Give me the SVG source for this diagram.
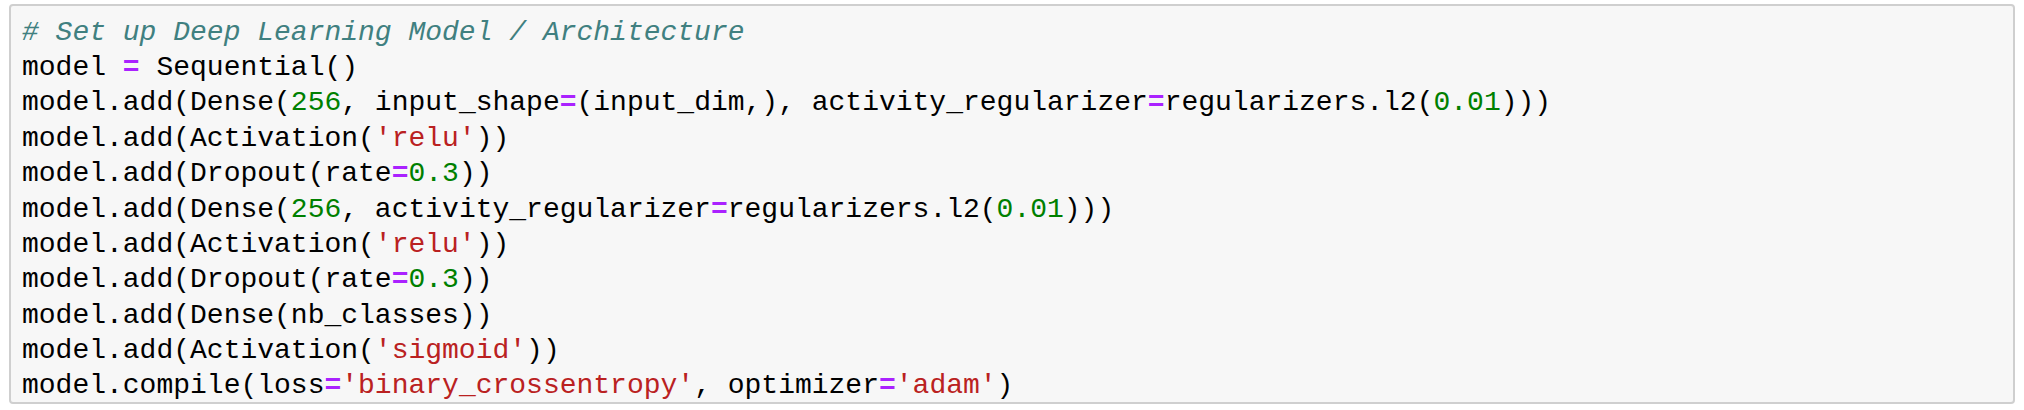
<svg xmlns="http://www.w3.org/2000/svg" width="2024" height="410" viewBox="0 0 2024 410">
<style>
text{font-family:"Liberation Mono","DejaVu Sans Mono",monospace;font-size:28px;fill:#000;white-space:pre}
.c{fill:#408080;font-style:italic}
.o{fill:#AA22FF;font-weight:bold}
.n{fill:#008000}
.s{fill:#BA2121}
</style>
<rect width="2024" height="410" fill="#fff"/>
<rect x="10" y="5" width="2004" height="398" rx="3" fill="#f7f7f7" stroke="#cfcfcf" stroke-width="2"/>
<g id="code">
<text x="22" y="40" class="c"># Set up Deep Learning Model / Architecture</text>
<text x="22" y="75">model <tspan class="o">=</tspan> Sequential()</text>
<text x="22" y="110">model.add(Dense(<tspan class="n">256</tspan>, input_shape<tspan class="o">=</tspan>(input_dim,), activity_regularizer<tspan class="o">=</tspan>regularizers.l2(<tspan class="n">0.01</tspan>)))</text>
<text x="22" y="146">model.add(Activation(<tspan class="s">'relu'</tspan>))</text>
<text x="22" y="181">model.add(Dropout(rate<tspan class="o">=</tspan><tspan class="n">0.3</tspan>))</text>
<text x="22" y="217">model.add(Dense(<tspan class="n">256</tspan>, activity_regularizer<tspan class="o">=</tspan>regularizers.l2(<tspan class="n">0.01</tspan>)))</text>
<text x="22" y="252">model.add(Activation(<tspan class="s">'relu'</tspan>))</text>
<text x="22" y="287">model.add(Dropout(rate<tspan class="o">=</tspan><tspan class="n">0.3</tspan>))</text>
<text x="22" y="323">model.add(Dense(nb_classes))</text>
<text x="22" y="358">model.add(Activation(<tspan class="s">'sigmoid'</tspan>))</text>
<text x="22" y="393">model.compile(loss<tspan class="o">=</tspan><tspan class="s">'binary_crossentropy'</tspan>, optimizer<tspan class="o">=</tspan><tspan class="s">'adam'</tspan>)</text>
</g>
</svg>
